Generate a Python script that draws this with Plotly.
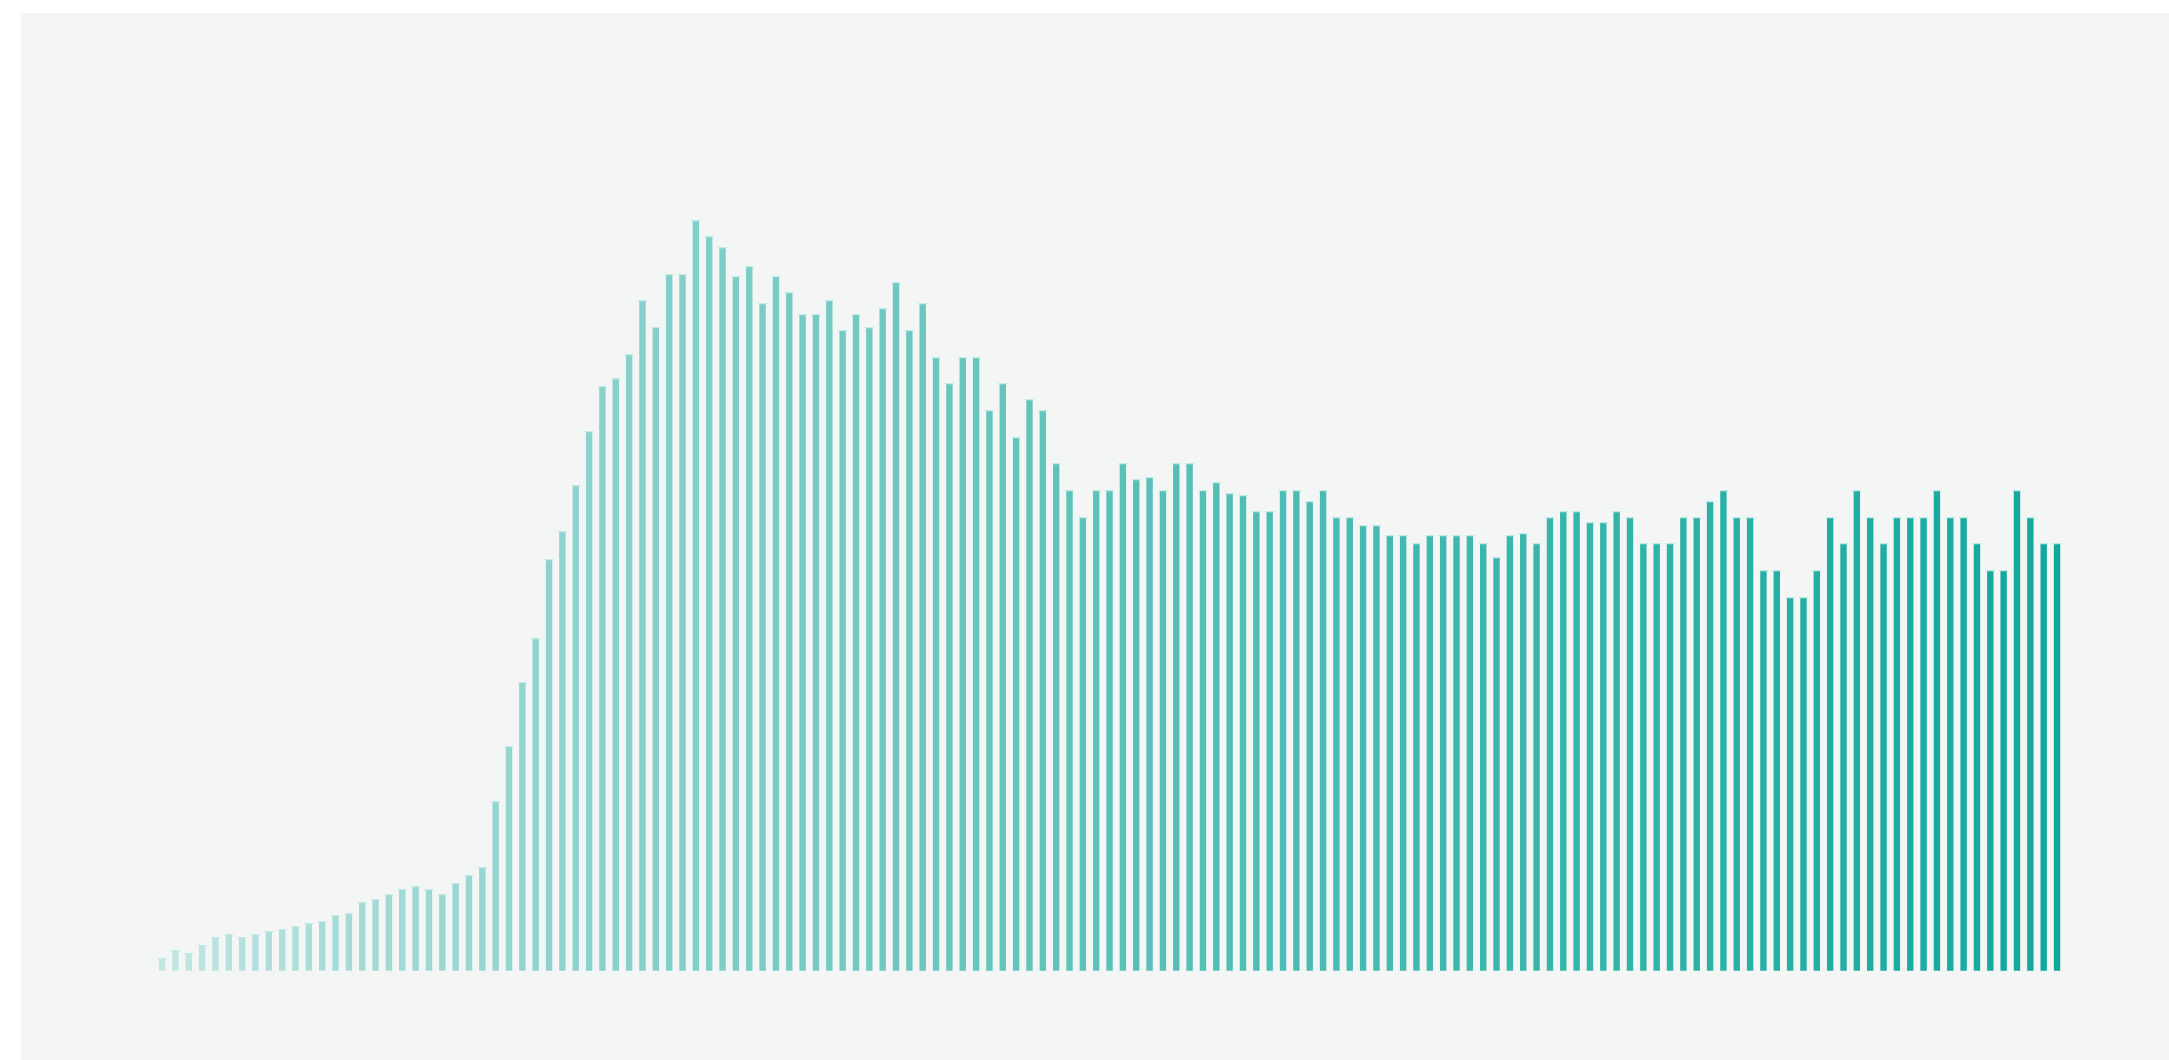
import plotly.graph_objects as go

# Bar heights (arbitrary units, one per period)
periods = list(range(143))
values = [
    12, 20, 17, 25, 33, 36, 33, 36, 39, 41,
    44, 47, 49, 55, 57, 68, 71, 76, 81, 84,
    81, 76, 87, 95, 103, 169, 224, 288, 332, 411,
    439, 485, 539, 584, 592, 616, 670, 643, 696, 696,
    750, 734, 723, 694, 704, 667, 694, 678, 656, 656,
    670, 640, 656, 643, 662, 688, 640, 667, 613, 587,
    613, 613, 560, 587, 533, 571, 560, 507, 480, 453,
    480, 480, 507, 491, 493, 480, 507, 507, 480, 488,
    477, 475, 459, 459, 480, 480, 469, 480, 453, 453,
    445, 445, 435, 435, 427, 435, 435, 435, 435, 427,
    413, 435, 437, 427, 453, 459, 459, 448, 448, 459,
    453, 427, 427, 427, 453, 453, 469, 480, 453, 453,
    400, 400, 373, 373, 400, 453, 427, 480, 453, 427,
    453, 453, 453, 480, 453, 453, 427, 400, 400, 480,
    453, 427, 427,
]

TEAL = (17, 168, 156)
n = len(values)
colors = []
for i in range(n):
    a = 0.2 + 0.8 * (i / (n - 1)) ** 0.75
    colors.append(f"rgba({TEAL[0]},{TEAL[1]},{TEAL[2]},{a:.3f})")

fig = go.Figure()
fig.add_trace(go.Bar(
    x=periods, y=values,
    marker=dict(color=colors, line=dict(width=0)),
    hoverinfo="skip",
))
# light cap on top of each bar
fig.add_trace(go.Scatter(
    x=periods, y=values, mode="markers",
    marker=dict(symbol="line-ew", size=6.4,
                line=dict(width=1.2, color="rgba(190,232,228,0.95)")),
    hoverinfo="skip",
))

fig.update_layout(
    width=2169, height=1060, autosize=False,
    margin=dict(l=21, r=0, t=13, b=0, pad=0),
    paper_bgcolor="#ffffff",
    plot_bgcolor="#f4f6f6",
    showlegend=False,
    bargap=0.52,
    xaxis=dict(range=[-10.57, 150.39], visible=False, showgrid=False, zeroline=False),
    yaxis=dict(range=[-89.3, 957.7], visible=False, showgrid=False, zeroline=False),
)

fig.write_html(
    "out.html",
    config={"displayModeBar": False},
    post_script="document.body.style.margin='0';document.body.style.overflow='hidden';",
)
